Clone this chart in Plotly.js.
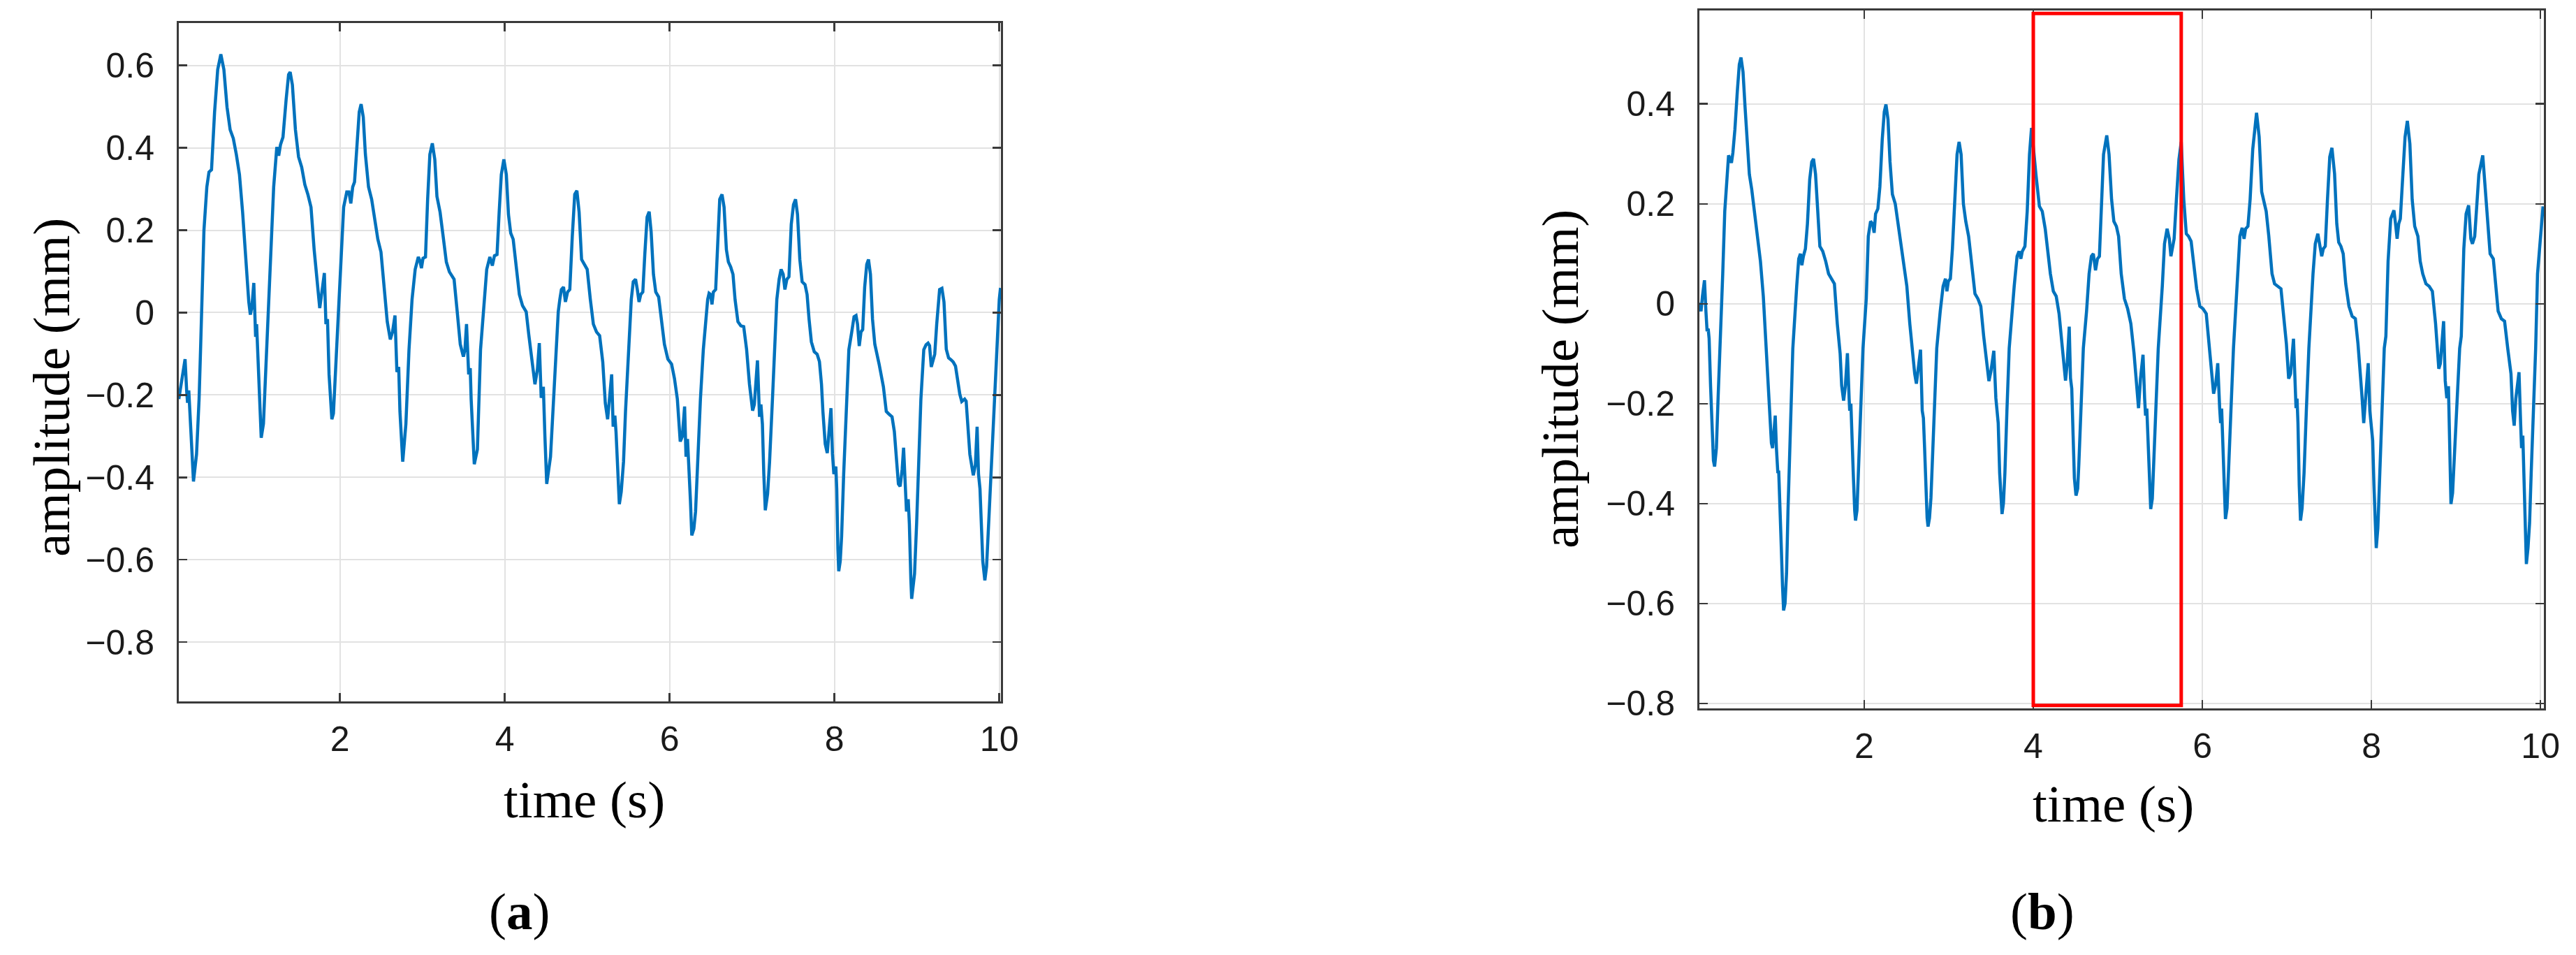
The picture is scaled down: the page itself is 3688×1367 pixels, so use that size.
<!DOCTYPE html>
<html>
<head>
<meta charset="utf-8">
<script src="https://cdn.plot.ly/plotly-3.0.1.min.js"></script>
<style>
  html, body { margin: 0; padding: 0; background: #ffffff; }
  #chart { width: 3688px; height: 1367px; }
</style>
</head>
<body>
<div id="chart"></div>
<script>
// (a) amplitude over time
const timeA = [
  0.045, 0.121, 0.140, 0.151, 0.166, 0.185, 0.223, 0.260, 0.291, 0.309, 0.350, 0.385, 0.411, 0.442, 0.479, 0.517, 0.555, 0.592, 0.630, 0.668,
  0.706, 0.743, 0.781, 0.819, 0.857, 0.894, 0.913, 0.932, 0.955, 0.977, 0.989, 1.008, 1.026, 1.045, 1.072, 1.091, 1.113,
  1.158, 1.196, 1.234, 1.257, 1.279, 1.309, 1.347, 1.377, 1.396, 1.423, 1.460, 1.498, 1.536, 1.574, 1.611, 1.649, 1.687, 1.725,
  1.755, 1.781, 1.811, 1.830, 1.849, 1.868, 1.902, 1.921, 1.943, 1.958,
  2.008, 2.045, 2.083, 2.109, 2.132, 2.155, 2.177, 2.215, 2.234, 2.257, 2.283, 2.309, 2.347, 2.385, 2.423, 2.460, 2.498, 2.536,
  2.574, 2.611, 2.638, 2.668, 2.691, 2.713, 2.728, 2.762, 2.800, 2.838,
  2.875, 2.913, 2.951, 2.970, 2.989, 3.008, 3.038, 3.064, 3.091, 3.121, 3.151, 3.177, 3.215, 3.253, 3.291, 3.328, 3.385, 3.423,
  3.460, 3.498, 3.517, 3.536, 3.562, 3.581, 3.592, 3.630, 3.668, 3.706,
  3.743, 3.781, 3.819, 3.849, 3.875, 3.906, 3.932, 3.958, 3.989, 4.019, 4.045, 4.072, 4.102, 4.140, 4.177, 4.215, 4.260, 4.291,
  4.328, 4.366, 4.396, 4.419, 4.442, 4.468, 4.487, 4.509, 4.555, 4.630,
  4.649, 4.668, 4.687, 4.713, 4.736, 4.762, 4.789, 4.819, 4.849, 4.875, 4.902, 4.932, 4.962, 5.000, 5.038, 5.075, 5.113, 5.151,
  5.189, 5.220, 5.248, 5.273, 5.297, 5.315, 5.336, 5.350, 5.378, 5.390, 5.413, 5.441, 5.465, 5.500,
  5.535, 5.559, 5.587, 5.608, 5.629, 5.650, 5.675, 5.699, 5.727, 5.752, 5.776, 5.804, 5.832, 5.867, 5.902, 5.937, 5.979, 6.024,
  6.059, 6.094, 6.129, 6.154, 6.182, 6.199, 6.217, 6.234, 6.252, 6.269, 6.294, 6.315, 6.339, 6.374, 6.409,
  6.444, 6.462, 6.479, 6.497, 6.514, 6.531, 6.559, 6.584, 6.608, 6.636, 6.661, 6.689, 6.713, 6.741, 6.769, 6.794, 6.829, 6.864,
  6.899, 6.934, 6.969, 7.007, 7.028, 7.066, 7.091, 7.108, 7.126, 7.143, 7.161, 7.189, 7.213, 7.248, 7.273,
  7.301, 7.329, 7.353, 7.378, 7.399, 7.423, 7.448, 7.476, 7.503, 7.528, 7.552, 7.580, 7.608, 7.643, 7.668, 7.692, 7.720, 7.755,
  7.790, 7.818, 7.843, 7.860, 7.888, 7.913, 7.930, 7.958, 7.976, 7.993, 8.017, 8.028, 8.042, 8.052, 8.070, 8.087, 8.112, 8.140, 8.175,
  8.210, 8.238, 8.262, 8.280, 8.301, 8.322, 8.343, 8.367, 8.392, 8.413, 8.437, 8.462, 8.490, 8.517, 8.542, 8.594, 8.629, 8.664,
  8.699, 8.727, 8.752, 8.776, 8.797, 8.822, 8.839, 8.857, 8.874, 8.895, 8.909, 8.927, 8.937, 8.951, 8.972, 8.997, 9.024, 9.049, 9.084,
  9.112, 9.136, 9.154, 9.175, 9.196, 9.217, 9.241, 9.276, 9.304, 9.329, 9.357, 9.385, 9.416, 9.441, 9.469, 9.521, 9.545, 9.580,
  9.598, 9.643, 9.685, 9.710, 9.731, 9.748, 9.766, 9.800, 9.825, 9.846, 9.871, 9.906, 9.941, 9.976, 10.000, 10.015
];
const ampA = [
  -0.210, -0.113, -0.189, -0.219, -0.189, -0.271, -0.410, -0.344, -0.210, -0.089, 0.200, 0.305, 0.341, 0.347, 0.487, 0.590, 0.627, 0.590, 0.499, 0.444,
  0.423, 0.384, 0.335, 0.244, 0.123, 0.026, -0.005, 0.014, 0.072, -0.059, -0.028, -0.119, -0.240, -0.304, -0.270, -0.180, -0.089,
  0.153, 0.305, 0.402, 0.381, 0.408, 0.426, 0.517, 0.578, 0.584, 0.553, 0.444, 0.378, 0.353, 0.311, 0.287, 0.256, 0.153, 0.062,
  0.011, 0.050, 0.096, -0.028, -0.016, -0.150, -0.259, -0.245, -0.150, -0.090,
  0.093, 0.256, 0.293, 0.293, 0.265, 0.305, 0.317, 0.444, 0.487, 0.506, 0.475, 0.384, 0.305, 0.275, 0.226, 0.178, 0.147, 0.062,
  -0.022, -0.065, -0.047, -0.007, -0.144, -0.132, -0.240, -0.362, -0.271, -0.090,
  0.032, 0.105, 0.135, 0.126, 0.108, 0.132, 0.135, 0.275, 0.384, 0.411, 0.372, 0.282, 0.244, 0.184, 0.123, 0.099, 0.081, 0.002,
  -0.077, -0.107, -0.089, -0.028, -0.150, -0.135, -0.210, -0.368, -0.332, -0.090,
  0.002, 0.105, 0.135, 0.114, 0.138, 0.141, 0.244, 0.335, 0.372, 0.335, 0.238, 0.193, 0.178, 0.117, 0.044, 0.017, 0.002, -0.053,
  -0.119, -0.174, -0.138, -0.074, -0.207, -0.180, -0.300, -0.416, -0.350, -0.090,
  0.002, 0.032, 0.056, 0.062, 0.026, 0.050, 0.056, 0.184, 0.287, 0.296, 0.244, 0.129, 0.117, 0.105, 0.032, -0.028, -0.047, -0.056,
  -0.120, -0.220, -0.259, -0.210, -0.150, -0.277, -0.250, -0.290, -0.440, -0.465, -0.435, -0.362, -0.240, -0.090,
  0.032, 0.075, 0.081, 0.056, 0.026, 0.044, 0.050, 0.141, 0.232, 0.245, 0.196, 0.093, 0.050, 0.038, -0.022, -0.077, -0.113, -0.125,
  -0.160, -0.210, -0.313, -0.301, -0.228, -0.350, -0.307, -0.367, -0.453, -0.541, -0.525, -0.483, -0.362, -0.210, -0.090,
  0.002, 0.032, 0.047, 0.044, 0.020, 0.050, 0.056, 0.184, 0.275, 0.287, 0.256, 0.153, 0.123, 0.111, 0.093, 0.032, -0.022, -0.032,
  -0.034, -0.089, -0.174, -0.238, -0.223, -0.116, -0.253, -0.223, -0.271, -0.392, -0.480, -0.440, -0.362, -0.210, -0.090,
  0.032, 0.081, 0.105, 0.093, 0.056, 0.081, 0.087, 0.214, 0.262, 0.275, 0.238, 0.129, 0.075, 0.068, 0.044, -0.016, -0.071, -0.095,
  -0.101, -0.119, -0.174, -0.240, -0.319, -0.341, -0.302, -0.232, -0.343, -0.392, -0.374, -0.428, -0.574, -0.628, -0.604, -0.543, -0.392, -0.240, -0.090,
  -0.047, -0.010, -0.007, -0.028, -0.081, -0.047, -0.041, 0.062, 0.117, 0.129, 0.093, -0.016, -0.077, -0.101, -0.125, -0.180, -0.240, -0.247,
  -0.253, -0.289, -0.362, -0.416, -0.422, -0.380, -0.328, -0.430, -0.483, -0.453, -0.513, -0.647, -0.695, -0.671, -0.634, -0.513, -0.362, -0.210, -0.090,
  -0.078, -0.074, -0.080, -0.132, -0.113, -0.101, -0.028, 0.056, 0.059, 0.026, -0.089, -0.110, -0.115, -0.120, -0.130, -0.198, -0.216, -0.210,
  -0.215, -0.344, -0.395, -0.370, -0.277, -0.392, -0.428, -0.604, -0.650, -0.616, -0.513, -0.362, -0.210, -0.089, 0.032, 0.060
];

// (b) amplitude over time
const timeB = [
  0.051, 0.069, 0.086, 0.110, 0.127, 0.141, 0.154, 0.165, 0.182, 0.199, 0.216, 0.230, 0.251, 0.271, 0.295,
  0.326, 0.350, 0.371, 0.395, 0.412, 0.429, 0.446, 0.470, 0.498, 0.522, 0.542, 0.566, 0.590, 0.617, 0.641, 0.669, 0.703, 0.738,
  0.772, 0.806, 0.840, 0.875, 0.902, 0.916, 0.933, 0.947, 0.961, 0.978, 0.988, 1.002, 1.019, 1.033, 1.046, 1.063, 1.081, 1.098, 1.122, 1.155,
  1.201, 1.225, 1.245, 1.262, 1.280, 1.304, 1.328, 1.355, 1.379, 1.400, 1.424, 1.448, 1.475, 1.509, 1.544, 1.578, 1.612, 1.647,
  1.681, 1.715, 1.733, 1.756, 1.777, 1.801, 1.821, 1.828, 1.842, 1.852, 1.870, 1.887, 1.897, 1.914, 1.931, 1.955, 1.985,
  2.024, 2.048, 2.075, 2.099, 2.117, 2.134, 2.161, 2.185, 2.213, 2.237, 2.257, 2.281, 2.305, 2.333, 2.367, 2.401, 2.436, 2.470,
  2.504, 2.539, 2.573, 2.597, 2.617, 2.642, 2.666, 2.686, 2.700, 2.714, 2.727, 2.744, 2.755, 2.772, 2.789, 2.813, 2.837, 2.858,
  2.899, 2.933, 2.961, 2.978, 2.995, 3.019, 3.043, 3.070, 3.098, 3.122, 3.146, 3.173, 3.201, 3.235, 3.276, 3.310, 3.345, 3.379,
  3.413, 3.448, 3.475, 3.499, 3.533, 3.557, 3.571, 3.585, 3.602, 3.619, 3.630, 3.647, 3.664, 3.688, 3.715,
  3.774, 3.808, 3.832, 3.853, 3.870, 3.901, 3.928, 3.955, 3.979, 4.005, 4.031, 4.072, 4.106, 4.141, 4.168, 4.202, 4.237, 4.271,
  4.305, 4.333, 4.357, 4.381, 4.401, 4.425, 4.440, 4.455, 4.471, 4.486, 4.505, 4.525, 4.539, 4.565, 4.592,
  4.630, 4.660, 4.687, 4.710, 4.736, 4.759, 4.782, 4.805, 4.831, 4.869, 4.896, 4.926, 4.953, 4.983, 5.009, 5.040, 5.078, 5.116,
  5.154, 5.192, 5.222, 5.245, 5.268, 5.298, 5.317, 5.328, 5.343, 5.355, 5.370, 5.389, 5.408, 5.427, 5.450, 5.478,
  5.526, 5.552, 5.583, 5.609, 5.628, 5.647, 5.666, 5.693, 5.723, 5.750, 5.780, 5.810, 5.837, 5.867, 5.894, 5.932, 5.970, 6.008,
  6.046, 6.072, 6.102, 6.133, 6.159, 6.182, 6.205, 6.216, 6.228, 6.239, 6.254, 6.273, 6.292, 6.311, 6.338, 6.368,
  6.414, 6.444, 6.471, 6.493, 6.512, 6.539, 6.565, 6.596, 6.641, 6.672, 6.702, 6.729, 6.755, 6.786, 6.824, 6.854, 6.892, 6.930,
  6.956, 6.994, 7.021, 7.044, 7.078, 7.097, 7.108, 7.120, 7.131, 7.146, 7.161, 7.180, 7.203, 7.230, 7.260,
  7.309, 7.336, 7.366, 7.393, 7.412, 7.431, 7.454, 7.480, 7.507, 7.533, 7.564, 7.590, 7.613, 7.639, 7.666, 7.696, 7.734, 7.772,
  7.810, 7.841, 7.867, 7.886, 7.909, 7.932, 7.962, 7.981, 8.000, 8.015, 8.030, 8.046, 8.057, 8.076, 8.095, 8.121, 8.152,
  8.171, 8.197, 8.228, 8.266, 8.285, 8.304, 8.323, 8.342, 8.372, 8.398, 8.425, 8.455, 8.482, 8.512, 8.550, 8.577, 8.607, 8.645,
  8.683, 8.721, 8.759, 8.797, 8.815, 8.854, 8.873, 8.892, 8.911, 8.918, 8.930, 8.941, 8.960, 8.987, 9.017, 9.044,
  9.063, 9.093, 9.120, 9.150, 9.176, 9.195, 9.222, 9.245, 9.271, 9.317, 9.347, 9.378, 9.404, 9.442, 9.472, 9.499, 9.537, 9.575,
  9.613, 9.651, 9.670, 9.689, 9.708, 9.746, 9.765, 9.776, 9.791, 9.803, 9.814, 9.821, 9.833, 9.852, 9.871, 9.890, 9.917, 9.943,
  9.965, 9.992, 10.030
];
const ampB = [
  0.002, -0.015, 0.015, 0.047, -0.015, -0.055, -0.050, -0.070, -0.164, -0.264, -0.314, -0.326, -0.289, -0.189, -0.090,
  0.060, 0.185, 0.249, 0.297, 0.290, 0.282, 0.302, 0.349, 0.424, 0.479, 0.493, 0.464, 0.394, 0.319, 0.259, 0.229, 0.185, 0.135,
  0.085, 0.015, -0.090, -0.204, -0.279, -0.289, -0.254, -0.224, -0.289, -0.339, -0.334, -0.389, -0.489, -0.564, -0.614, -0.600, -0.539, -0.414, -0.264, -0.090,
  0.035, 0.090, 0.100, 0.077, 0.095, 0.110, 0.160, 0.249, 0.284, 0.290, 0.259, 0.185, 0.115, 0.105, 0.085, 0.060, 0.050, 0.040,
  -0.040, -0.100, -0.164, -0.194, -0.164, -0.099, -0.189, -0.214, -0.200, -0.239, -0.339, -0.414, -0.434, -0.414, -0.339, -0.214, -0.090,
  0.010, 0.135, 0.165, 0.160, 0.142, 0.180, 0.190, 0.234, 0.329, 0.384, 0.399, 0.369, 0.284, 0.219, 0.200, 0.160, 0.110, 0.075,
  0.035, -0.040, -0.100, -0.140, -0.160, -0.130, -0.092, -0.214, -0.229, -0.289, -0.364, -0.429, -0.446, -0.429, -0.389, -0.289, -0.164, -0.089,
  -0.015, 0.035, 0.050, 0.025, 0.045, 0.050, 0.110, 0.209, 0.299, 0.324, 0.299, 0.200, 0.165, 0.135, 0.070, 0.020, 0.010, -0.005,
  -0.065, -0.115, -0.155, -0.135, -0.094, -0.189, -0.209, -0.239, -0.339, -0.404, -0.421, -0.399, -0.339, -0.214, -0.089,
  0.035, 0.095, 0.105, 0.090, 0.105, 0.115, 0.185, 0.299, 0.352, 0.300, 0.259, 0.195, 0.185, 0.150, 0.110, 0.060, 0.025, 0.015,
  -0.020, -0.075, -0.125, -0.154, -0.120, -0.046, -0.149, -0.170, -0.264, -0.349, -0.384, -0.370, -0.320, -0.214, -0.089,
  -0.015, 0.060, 0.095, 0.100, 0.067, 0.090, 0.095, 0.209, 0.299, 0.337, 0.299, 0.209, 0.165, 0.155, 0.135, 0.060, 0.010, -0.010,
  -0.040, -0.100, -0.170, -0.209, -0.150, -0.102, -0.190, -0.224, -0.210, -0.260, -0.339, -0.411, -0.390, -0.314, -0.189, -0.090,
  0.035, 0.120, 0.150, 0.130, 0.095, 0.110, 0.130, 0.209, 0.289, 0.324, 0.209, 0.140, 0.135, 0.125, 0.085, 0.030, -0.005, -0.010,
  -0.020, -0.065, -0.115, -0.180, -0.160, -0.119, -0.210, -0.239, -0.210, -0.264, -0.364, -0.431, -0.409, -0.339, -0.214, -0.089,
  0.060, 0.135, 0.152, 0.130, 0.150, 0.155, 0.209, 0.309, 0.382, 0.334, 0.224, 0.204, 0.185, 0.135, 0.060, 0.040, 0.035, 0.030,
  -0.015, -0.080, -0.150, -0.140, -0.070, -0.179, -0.209, -0.190, -0.239, -0.364, -0.434, -0.409, -0.339, -0.214, -0.089,
  0.060, 0.120, 0.140, 0.110, 0.095, 0.110, 0.115, 0.209, 0.294, 0.312, 0.260, 0.160, 0.123, 0.115, 0.100, 0.040, -0.005, -0.025,
  -0.030, -0.080, -0.130, -0.180, -0.239, -0.190, -0.119, -0.214, -0.249, -0.274, -0.364, -0.464, -0.489, -0.449, -0.364, -0.239, -0.089,
  -0.065, 0.085, 0.170, 0.187, 0.160, 0.130, 0.160, 0.170, 0.259, 0.334, 0.366, 0.320, 0.209, 0.155, 0.135, 0.085, 0.060, 0.040,
  0.035, 0.025, -0.040, -0.130, -0.120, -0.035, -0.154, -0.189, -0.165, -0.239, -0.339, -0.401, -0.379, -0.289, -0.164, -0.089,
  -0.065, 0.110, 0.180, 0.197, 0.130, 0.120, 0.135, 0.185, 0.259, 0.297, 0.235, 0.160, 0.100, 0.090, 0.035, -0.015, -0.030, -0.035,
  -0.090, -0.140, -0.214, -0.244, -0.190, -0.137, -0.239, -0.289, -0.264, -0.339, -0.413, -0.479, -0.521, -0.489, -0.439, -0.339, -0.214, -0.089,
  0.060, 0.110, 0.195
];

// ticks
const xTicks = [2, 4, 6, 8, 10];
const xTickText = ['2', '4', '6', '8', '10'];
const yTicksA = [-0.8, -0.6, -0.4, -0.2, 0, 0.2, 0.4, 0.6];
const yTickTextA = ['\u22120.8', '\u22120.6', '\u22120.4', '\u22120.2', '0', '0.2', '0.4', '0.6'];
const yTicksB = [-0.8, -0.6, -0.4, -0.2, 0, 0.2, 0.4];
const yTickTextB = ['\u22120.8', '\u22120.6', '\u22120.4', '\u22120.2', '0', '0.2', '0.4'];

// highlighted window in (b)
const windowStart = 4;
const windowEnd = 5.75;

const W = 3688, H = 1367;
const lineBlue = '#0072BD';
const axisGray = '#3a3a3a';
const tickFont = {family: 'Liberation Sans, Arial, sans-serif', size: 50, color: '#1a1a1a'};
const titleFont = {family: 'Liberation Serif, Times New Roman, serif', size: 75, color: '#000000'};

// pixel box -> paper domain
function domX(left, right) { return [left / W, right / W]; }
function domY(top, bottom) { return [(H - bottom) / H, (H - top) / H]; }

function makeXAxis(domain, range, anchor) {
  return {
    domain: domain, range: range, anchor: anchor,
    tickvals: xTicks, ticktext: xTickText,
    ticks: 'inside', ticklen: 12, tickwidth: 2.5, tickcolor: axisGray,
    showline: true, linecolor: axisGray, linewidth: 3, mirror: 'ticks',
    showgrid: true, gridcolor: '#e2e2e2', gridwidth: 2,
    zeroline: false, tickfont: tickFont, ticklabelstandoff: 8
  };
}

function makeYAxis(domain, range, anchor, vals, text) {
  return {
    domain: domain, range: range, anchor: anchor,
    tickvals: vals, ticktext: text,
    ticks: 'inside', ticklen: 12, tickwidth: 2.5, tickcolor: axisGray,
    showline: true, linecolor: axisGray, linewidth: 3, mirror: 'ticks',
    showgrid: true, gridcolor: '#e2e2e2', gridwidth: 2,
    zeroline: false, tickfont: tickFont, ticklabelstandoff: 22
  };
}

function textLabel(text, px, py, angle) {
  return {
    text: text, xref: 'paper', yref: 'paper',
    x: px / W, y: 1 - py / H, xanchor: 'center', yanchor: 'middle',
    showarrow: false, textangle: angle || 0, font: titleFont
  };
}

const traces = [
  {x: timeA, y: ampA, type: 'scatter', mode: 'lines', xaxis: 'x', yaxis: 'y',
   line: {color: lineBlue, width: 4.5}, name: 'a'},
  {x: timeB, y: ampB, type: 'scatter', mode: 'lines', xaxis: 'x2', yaxis: 'y2',
   line: {color: lineBlue, width: 4.5}, name: 'b'}
];

const layout = {
  width: W, height: H,
  margin: {l: 0, r: 0, t: 0, b: 0},
  paper_bgcolor: '#ffffff', plot_bgcolor: '#ffffff',
  showlegend: false,
  xaxis: makeXAxis(domX(256, 1433), [0.045, 10.02], 'y'),
  yaxis: makeYAxis(domY(33, 1004), [-0.944, 0.703], 'x', yTicksA, yTickTextA),
  xaxis2: makeXAxis(domX(2433, 3642), [0.05, 10.04], 'y2'),
  yaxis2: makeYAxis(domY(15, 1014), [-0.81, 0.587], 'x2', yTicksB, yTickTextB),
  shapes: [{
    type: 'rect', xref: 'x2', yref: 'y2',
    x0: windowStart, x1: windowEnd, y0: -0.804, y1: 0.581,
    line: {color: '#ff0000', width: 5}, fillcolor: 'rgba(0,0,0,0)'
  }],
  annotations: [
    textLabel('amplitude (mm)', 73, 555, -90),
    textLabel('time (s)', 836, 1144),
    textLabel('(<b>a</b>)', 743, 1304),
    textLabel('amplitude (mm)', 2234, 543, -90),
    textLabel('time (s)', 3025, 1150),
    textLabel('(<b>b</b>)', 2924, 1304)
  ]
};

Plotly.newPlot('chart', traces, layout, {displayModeBar: false, staticPlot: true});
</script>
</body>
</html>
